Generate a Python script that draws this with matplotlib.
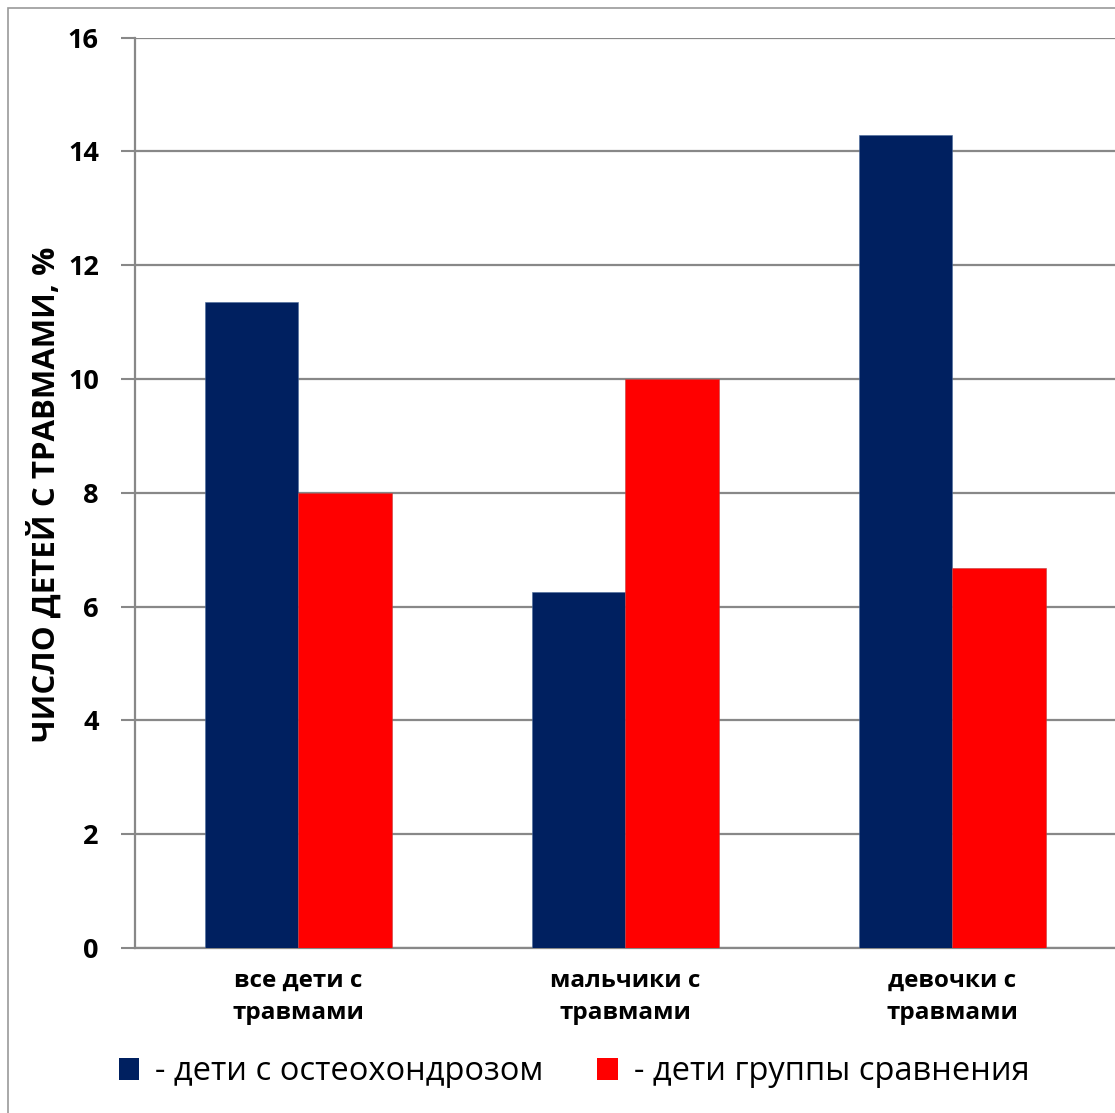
import numpy as np
import matplotlib.pyplot as plt
from matplotlib.patches import Patch, Rectangle

plt.rcParams['font.family'] = ['Open Sans', 'DejaVu Sans']

categories = ['все дети с\nтравмами', 'мальчики с\nтравмами', 'девочки с\nтравмами']
osteo = [11.36, 6.25, 14.29]
control = [8.0, 10.0, 6.67]
series_names = ['- дети с остеохондрозом', '- дети группы сравнения']
colors = ['#002060', '#FF0000']
yticks = [0, 2, 4, 6, 8, 10, 12, 14, 16]

fig = plt.figure(figsize=(11.15, 11.13), dpi=100)
ax = fig.add_axes([135 / 1115, 165 / 1113, 981 / 1115, 910.5 / 1113])

x = np.arange(len(categories))
w = 0.285
ax.bar(x - w / 2, osteo, w, color=colors[0], edgecolor='#4a6a9a', linewidth=0.4, zorder=3)
ax.bar(x + w / 2, control, w, color=colors[1], edgecolor='#c04040', linewidth=0.4, zorder=3)

ax.set_xlim(-0.5, 2.5)
ax.set_ylim(0, 16)
ax.set_yticks(yticks)
ax.set_yticklabels([str(t) for t in yticks], fontsize=19.5, fontweight='bold')
ax.set_xticks(x)
ax.set_xticklabels(categories, fontsize=17.5, fontweight='bold', linespacing=1.45)
ax.tick_params(axis='x', length=0, pad=15)
ax.tick_params(axis='y', length=10, width=1.5, color='#888888', pad=16)

ax.grid(axis='y', color='#888888', linewidth=1.6, zorder=0)
for side in ['top', 'right']:
    ax.spines[side].set_visible(False)
for side in ['left', 'bottom']:
    ax.spines[side].set_color('#888888')
    ax.spines[side].set_linewidth(1.6)

fig.text(44 / 1115, 1 - 494 / 1113, 'ЧИСЛО ДЕТЕЙ С ТРАВМАМИ, %', rotation=90,
         ha='center', va='center', fontsize=22.5, fontweight='bold')

handles = [Patch(facecolor=c) for c in colors]
fig.legend(handles, series_names, loc='center', ncol=2, frameon=False,
           bbox_to_anchor=(574 / 1115, 1 - 1072 / 1113), fontsize=23.5,
           handlelength=0.62, handleheight=0.62, handletextpad=0.5, columnspacing=1.65)

# chart area frame
fig.patches.append(Rectangle((8 / 1115, -0.01), 1.1, 1 - 8 / 1113 + 0.01,
                             transform=fig.transFigure, fill=False,
                             edgecolor='#999999', linewidth=1.2))

fig.savefig('out.png', dpi=100)
